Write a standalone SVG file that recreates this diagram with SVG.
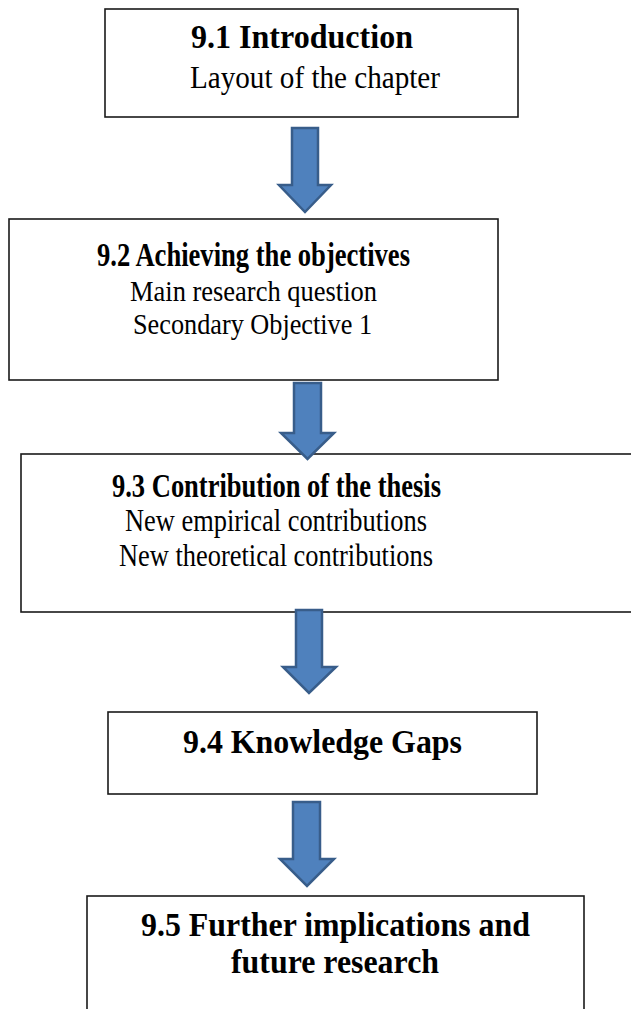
<svg xmlns="http://www.w3.org/2000/svg" width="631" height="1009" viewBox="0 0 631 1009">
<style>
.box{fill:#fff;stroke:#1a1a1a;stroke-width:1.6}
.arrow{fill:#4F81BD;stroke:#385D8A;stroke-width:2.5;stroke-linejoin:miter}
.t{font-family:"Liberation Serif","Times New Roman",serif;fill:#000;text-anchor:middle}
.b{font-weight:bold;font-size:33px}
.r{font-size:31px}
.r2{font-size:29.5px}
</style>
<rect width="631" height="1009" fill="#fff"/>
<g id="n1">
<rect class="box" x="105" y="9" width="413" height="108"/>
<text class="t b" x="302" y="48" textLength="222" lengthAdjust="spacingAndGlyphs">9.1 Introduction</text>
<text class="t r" x="315" y="88" textLength="250" lengthAdjust="spacingAndGlyphs">Layout of the chapter</text>
</g>
<g id="n2">
<rect class="box" x="9" y="219" width="489" height="161"/>
<text class="t b" x="253.5" y="266" textLength="313" lengthAdjust="spacingAndGlyphs">9.2 Achieving the objectives</text>
<text class="t r2" x="253.5" y="301" textLength="247" lengthAdjust="spacingAndGlyphs">Main research question</text>
<text class="t r2" x="252.5" y="334" textLength="239" lengthAdjust="spacingAndGlyphs">Secondary Objective 1</text>
</g>
<g id="n3">
<rect class="box" x="21" y="454" width="620" height="158"/>
<text class="t b" x="276.5" y="497" textLength="329" lengthAdjust="spacingAndGlyphs">9.3 Contribution of the thesis</text>
<text class="t r" x="276" y="531" textLength="302" lengthAdjust="spacingAndGlyphs">New empirical contributions</text>
<text class="t r" x="276" y="566" textLength="314" lengthAdjust="spacingAndGlyphs">New theoretical contributions</text>
</g>
<g id="n4">
<rect class="box" x="108" y="712" width="429" height="82"/>
<text class="t b" x="322.5" y="753" textLength="279" lengthAdjust="spacingAndGlyphs">9.4 Knowledge Gaps</text>
</g>
<g id="n5">
<rect class="box" x="87" y="896" width="497" height="130"/>
<text class="t b" x="335.5" y="936" textLength="389" lengthAdjust="spacingAndGlyphs">9.5 Further implications and</text>
<text class="t b" x="335" y="973" textLength="208" lengthAdjust="spacingAndGlyphs">future research</text>
</g>
<g id="connectors">
<polygon class="arrow" points="292,128 318,128 318,185 331,185 305,212 279,185 292,185"/>
<polygon class="arrow" points="294,383 321,383 321,433 334,433 307.5,459 281,433 294,433"/>
<polygon class="arrow" points="296,610 322,610 322,667 336,667 309,693 283,667 296,667"/>
<polygon class="arrow" points="293,802 320,802 320,859 334,859 307,886 280,859 293,859"/>
</g>
</svg>
